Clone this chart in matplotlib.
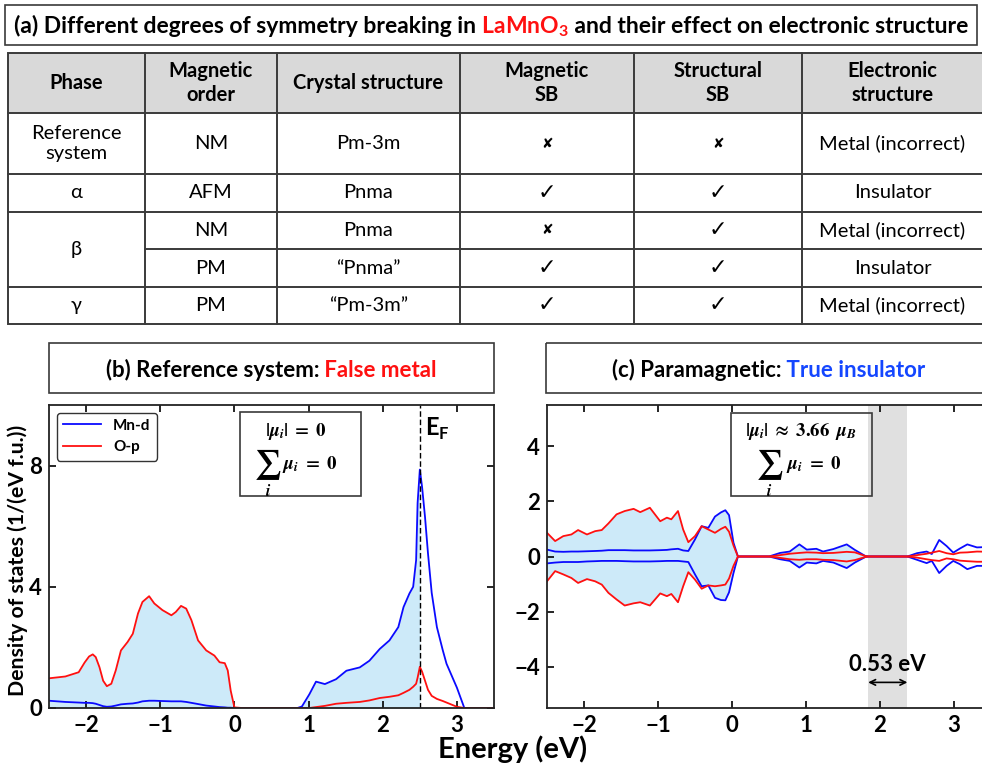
import numpy as np
import matplotlib
matplotlib.use("Agg")
import matplotlib.pyplot as plt
from matplotlib.patches import Rectangle

plt.rcParams['font.family'] = ['Lato', 'DejaVu Sans']
plt.rcParams['font.weight'] = 'bold'

W, H = 982, 767

# ---- (a) table contents ----
header = ["Phase", "Magnetic\norder", "Crystal structure", "Magnetic\nSB", "Structural\nSB", "Electronic\nstructure"]
phases = ["Reference\nsystem", "α", "β", "γ"]
phase_span = [1, 1, 2, 1]
mag_order = ["NM", "AFM", "NM", "PM", "PM"]
crystal = ["Pm-3m", "Pnma", "Pnma", "“Pnma”", "“Pm-3m”"]
mag_sb = [False, True, False, True, True]
struct_sb = [False, True, True, True, True]
electronic = ["Metal (incorrect)", "Insulator", "Metal (incorrect)", "Insulator", "Metal (incorrect)"]

# ---- (b) reference system DOS ----
energy_b = np.array([-2.5, -2.28, -2.1, -2.02, -1.96, -1.91, -1.87, -1.82, -1.77, -1.72, -1.66, -1.6,
                     -1.53, -1.44, -1.37, -1.3, -1.24, -1.15, -1.08, -0.97, -0.85, -0.79, -0.72, -0.65,
                     -0.58, -0.49, -0.38, -0.27, -0.2, -0.13, -0.09, -0.05, 0.0,
                     0.1, 0.5, 0.85, 0.91, 1.01, 1.10, 1.22, 1.37, 1.51, 1.69, 1.82, 1.96, 2.09, 2.21,
                     2.28, 2.36, 2.41, 2.45, 2.47, 2.5, 2.53, 2.57, 2.61, 2.66, 2.73, 2.81, 2.86, 3.0,
                     3.1, 3.5])
mnd_b = np.array([0.24, 0.20, 0.18, 0.17, 0.17, 0.16, 0.14, 0.10, 0.06, 0.04, 0.05, 0.08,
                  0.12, 0.14, 0.15, 0.18, 0.22, 0.24, 0.24, 0.23, 0.22, 0.22, 0.22, 0.20,
                  0.17, 0.13, 0.08, 0.05, 0.03, 0.02, 0.01, 0.01, 0.0,
                  0.0, 0.0, 0.0, 0.05, 0.45, 0.87, 0.79, 0.95, 1.23, 1.34, 1.56, 1.95, 2.23, 2.67,
                  3.33, 3.78, 4.0, 4.88, 6.77, 7.87, 7.3, 6.3, 5.1, 3.8, 2.67, 1.9, 1.46, 0.67,
                  0.0, 0.0])
op_b = np.array([0.98, 1.04, 1.18, 1.50, 1.70, 1.77, 1.68, 1.35, 0.90, 0.72, 0.80, 1.24,
                 1.90, 2.18, 2.45, 3.12, 3.50, 3.69, 3.45, 3.23, 3.06, 3.17, 3.37, 3.28,
                 2.90, 2.23, 1.90, 1.73, 1.51, 1.48, 1.24, 0.57, 0.02,
                 0.0, 0.0, 0.0, 0.0, 0.0, 0.03, 0.07, 0.14, 0.17, 0.20, 0.25, 0.33, 0.37, 0.42,
                 0.50, 0.60, 0.70, 0.80, 1.0, 1.36, 1.2, 0.9, 0.6, 0.4, 0.3, 0.23, 0.18, 0.04,
                 0.0, 0.0])
e_fermi = 2.5

# ---- (c) paramagnetic DOS (up / down) ----
energy_c = np.array([-2.5, -2.39, -2.28, -2.17, -2.08, -1.96, -1.85, -1.76, -1.67, -1.56, -1.45, -1.33,
                     -1.24, -1.11, -0.97, -0.88, -0.82, -0.73, -0.66, -0.59, -0.50, -0.41, -0.32, -0.23,
                     -0.15, -0.09, -0.04, 0.02, 0.08, 0.5, 0.65, 0.78, 0.91, 1.01, 1.14, 1.23, 1.37,
                     1.55, 1.66, 1.80, 1.84, 2.37, 2.50, 2.63, 2.70, 2.80, 2.90, 2.99, 3.08, 3.18,
                     3.31, 3.5])
op_up_c = np.array([0.86, 0.56, 0.74, 0.80, 0.96, 0.80, 0.92, 0.96, 1.20, 1.53, 1.65, 1.73,
                    1.61, 1.77, 1.28, 1.41, 1.35, 1.65, 0.98, 0.52, 0.74, 1.10, 0.98, 0.86,
                    1.00, 1.08, 0.90, 0.40, 0.0, 0.0, 0.05, 0.10, 0.13, 0.15, 0.14, 0.12, 0.13,
                    0.17, 0.15, 0.02, 0.0, 0.0, 0.05, 0.10, 0.14, 0.20, 0.12, 0.08, 0.14, 0.15,
                    0.18, 0.17])
op_dn_c = np.array([-0.90, -0.53, -0.65, -0.78, -0.96, -0.82, -0.90, -1.02, -1.32, -1.56, -1.78, -1.70,
                    -1.66, -1.78, -1.34, -1.44, -1.36, -1.66, -1.08, -0.57, -0.84, -1.17, -1.05, -1.08,
                    -1.05, -1.02, -0.80, -0.34, 0.0, 0.0, -0.05, -0.10, -0.12, -0.10, -0.10, -0.12, -0.13,
                    -0.18, -0.13, -0.02, 0.0, 0.0, -0.04, -0.10, -0.13, -0.16, -0.07, -0.10, -0.15, -0.17,
                    -0.19, -0.19])
mnd_up_c = np.array([0.25, 0.18, 0.17, 0.18, 0.18, 0.19, 0.20, 0.21, 0.23, 0.23, 0.23, 0.22,
                     0.22, 0.22, 0.23, 0.24, 0.26, 0.28, 0.22, 0.20, 0.62, 1.10, 1.04, 1.45,
                     1.60, 1.68, 1.50, 0.50, 0.0, 0.0, 0.13, 0.18, 0.44, 0.25, 0.28, 0.18, 0.27,
                     0.44, 0.24, 0.02, 0.0, 0.0, 0.12, 0.18, 0.09, 0.60, 0.38, 0.14, 0.29, 0.44,
                     0.33, 0.35])
mnd_dn_c = np.array([-0.25, -0.22, -0.20, -0.20, -0.20, -0.18, -0.17, -0.16, -0.16, -0.16, -0.17, -0.18,
                     -0.18, -0.18, -0.17, -0.16, -0.16, -0.16, -0.18, -0.20, -0.65, -1.08, -1.05, -1.50,
                     -1.58, -1.59, -1.30, -0.60, 0.0, 0.0, -0.10, -0.16, -0.40, -0.22, -0.25, -0.16, -0.22,
                     -0.42, -0.22, -0.02, 0.0, 0.0, -0.12, -0.24, -0.16, -0.60, -0.34, -0.16, -0.28, -0.46,
                     -0.34, -0.34])
gap_lo, gap_hi = 1.84, 2.37
gap_label = "0.53 eV"

BLUE = '#0a0aff'
RED = '#ff1010'
FILL = '#cdeaf9'
LINE = '#3a3a3a'


def px_rect(x0, y0, x1, y1):
    return [x0 / W, 1 - y1 / H, (x1 - x0) / W, (y1 - y0) / H]


def colored_text(ax, xc, y, parts, **kw):
    """Place differently coloured pieces side by side, centred on xc (pixels)."""
    r = ax.figure.canvas.get_renderer()
    ts = [ax.text(0, y, s, color=c, ha='left', va='baseline', **kw) for s, c in parts]
    ws = [t.get_window_extent(r).width for t in ts]
    x = xc - sum(ws) / 2
    for t, w in zip(ts, ws):
        t.set_x(x)
        x += w


def moment_box(ax, box, line1, x1, sum_x, rest_x):
    """Framed box with the magnetic-moment formulas (axes fraction coords)."""
    x0, y0, w, h = box
    ax.add_patch(Rectangle((x0, y0), w, h, transform=ax.transAxes, fill=False,
                           ec=LINE, lw=1.2, zorder=5))
    kw = dict(transform=ax.transAxes, ha='center', va='center', math_fontfamily='stix', zorder=6)
    ax.text(x1, 0.912, line1, fontsize=13.5, **kw)
    ax.text(sum_x, 0.805, r"$\sum$", fontsize=21, **kw)
    ax.text(sum_x, 0.716, r"$\mathbfit{i}$", fontsize=11.5, **kw)
    ax.text(rest_x, 0.805, r"$\mathbfit{\mu_i}\;=\;\mathbf{0}$", fontsize=13.5, **kw)


fig = plt.figure(figsize=(W / 100, H / 100), dpi=100)

# background axes in pixel coordinates for boxes and table
bg = fig.add_axes([0, 0, 1, 1])
bg.set_xlim(0, W)
bg.set_ylim(H, 0)
bg.axis('off')

# title box (a)
bg.add_patch(Rectangle((5, 5), 972, 40, fill=False, ec=LINE, lw=1.2))
colored_text(bg, 491, 33, [("(a) Different degrees of symmetry breaking in", 'black'),
                           (r" LaMnO$_\mathregular{3}$", RED),
                           (" and their effect on electronic structure", 'black')],
             fontsize=16.5, fontweight='bold')

# table
cols = [8, 145, 277, 460, 634, 802, 983]
rows = [53, 113, 174, 212, 249, 287, 324]
bg.add_patch(Rectangle((cols[0], rows[0]), cols[-1] - cols[0], rows[1] - rows[0], color='#d9d9d9', lw=0))
bg.add_patch(Rectangle((cols[0], rows[0]), cols[-1] - cols[0], rows[-1] - rows[0], fill=False, ec=LINE, lw=1.4))
for c in cols[1:-1]:
    bg.plot([c, c], [rows[0], rows[-1]], color=LINE, lw=1.4)
for k, r in enumerate(rows[1:-1], start=1):
    x0 = cols[1] if k == 4 else cols[0]
    bg.plot([x0, cols[-1]], [r, r], color=LINE, lw=1.4)

TS = 14.5
cx = [(cols[j] + cols[j + 1]) / 2 for j in range(len(cols) - 1)]
for j, h in enumerate(header):
    bg.text(cx[j], (rows[0] + rows[1]) / 2, h, ha='center', va='center', fontsize=TS,
            fontweight='bold', linespacing=1.2)

start = 0
for ph, span in zip(phases, phase_span):
    yc = (rows[start + 1] + rows[start + 1 + span]) / 2
    bg.text(cx[0], yc, ph, ha='center', va='center', fontsize=TS, fontweight='normal', linespacing=1.2)
    start += span

for i in range(len(mag_order)):
    yc = (rows[i + 1] + rows[i + 2]) / 2
    bg.text(cx[1], yc, mag_order[i], ha='center', va='center', fontsize=TS, fontweight='normal')
    bg.text(cx[2], yc, crystal[i], ha='center', va='center', fontsize=TS, fontweight='normal')
    for j, flag in ((3, mag_sb[i]), (4, struct_sb[i])):
        if flag:
            bg.text(cx[j], yc, '✓', ha='center', va='center', fontsize=16, fontweight='normal',
                    family='DejaVu Sans')
        else:
            bg.text(cx[j], yc, '✘', ha='center', va='center', fontsize=10, fontweight='normal',
                    family='DejaVu Sans')
    bg.text(cx[5], yc, electronic[i], ha='center', va='center', fontsize=TS, fontweight='normal')

# panel title boxes
bg.add_patch(Rectangle((49, 343), 445, 50, fill=False, ec=LINE, lw=1.2))
colored_text(bg, 271.5, 377, [("(b) Reference system:", 'black'), (" False metal", RED)],
             fontsize=16, fontweight='bold')
bg.add_patch(Rectangle((546, 343), 445, 50, fill=False, ec=LINE, lw=1.2))
colored_text(bg, 768.5, 377, [("(c) Paramagnetic:", 'black'), (" True insulator", '#1446ff')],
             fontsize=16, fontweight='bold')

bg.text(18, 560, "Density of states (1/(eV f.u.))", rotation=90, ha='center', va='center',
        fontsize=15.3, fontweight='bold')
bg.text(513, 749, "Energy (eV)", ha='center', va='center', fontsize=21, fontweight='bold')


def style_axes(ax):
    ax.tick_params(direction='in', top=True, right=True, length=5, width=1.2, labelsize=16, pad=5)
    for s in ax.spines.values():
        s.set_linewidth(1.3)
        s.set_color('#222222')


# ---- (b) ----
axb = fig.add_axes(px_rect(49, 405, 494, 708))
top_b = np.maximum(mnd_b, op_b)
axb.fill_between(energy_b, 0, top_b, where=energy_b <= e_fermi, color=FILL, lw=0)
axb.plot(energy_b, mnd_b, color=BLUE, lw=1.3, label='Mn-d')
axb.plot(energy_b, op_b, color=RED, lw=1.3, label='O-p')
axb.axvline(e_fermi, color='black', ls='--', lw=1.0, dashes=(4, 2))
axb.text(e_fermi + 0.07, 9.2, r"E$_\mathregular{F}$", fontsize=17, fontweight='bold', va='center')
axb.set_xlim(-2.5, 3.5)
axb.set_ylim(0, 10)
axb.set_xticks([-2, -1, 0, 1, 2, 3])
axb.set_yticks([0, 4, 8])
style_axes(axb)
leg = axb.legend(loc='upper left', prop=dict(weight='bold', size=11), handlelength=2.5,
                 fancybox=True, framealpha=1, edgecolor='#333333', borderaxespad=0.5)
leg.get_frame().set_linewidth(1.0)
moment_box(axb, (0.429, 0.700, 0.272, 0.277), r"$|\mathbfit{\mu_i}|\;=\;\mathbf{0}$",
           0.556, 0.492, 0.585)

# ---- (c) ----
axc = fig.add_axes(px_rect(547, 405, 991, 708))
axc.axvspan(gap_lo, gap_hi, color='#e0e0e0', lw=0, zorder=0)
upper = np.maximum(mnd_up_c, op_up_c)
lower = np.minimum(mnd_dn_c, op_dn_c)
axc.fill_between(energy_c, lower, upper, where=energy_c <= gap_lo, color=FILL, lw=0)
axc.plot(energy_c, mnd_up_c, color=BLUE, lw=1.3)
axc.plot(energy_c, mnd_dn_c, color=BLUE, lw=1.3)
axc.plot(energy_c, op_up_c, color=RED, lw=1.3)
axc.plot(energy_c, op_dn_c, color=RED, lw=1.3)
axc.annotate('', xy=(gap_lo, -4.57), xytext=(gap_hi, -4.57),
             arrowprops=dict(arrowstyle='<->', color='black', lw=1.2, shrinkA=0, shrinkB=0))
axc.text((gap_lo + gap_hi) / 2, -3.93, gap_label, ha='center', va='center', fontsize=16, fontweight='bold')
axc.set_xlim(-2.5, 3.5)
axc.set_ylim(-5.5, 5.5)
axc.set_xticks([-2, -1, 0, 1, 2, 3])
axc.set_yticks([-4, -2, 0, 2, 4])
style_axes(axc)
moment_box(axc, (0.414, 0.700, 0.318, 0.274),
           r"$|\mathbfit{\mu_i}|\;\approx\;\mathbf{3.66}\;\;\mathbfit{\mu_B}$",
           0.573, 0.501, 0.601)

fig.savefig('out.png', dpi=100)
